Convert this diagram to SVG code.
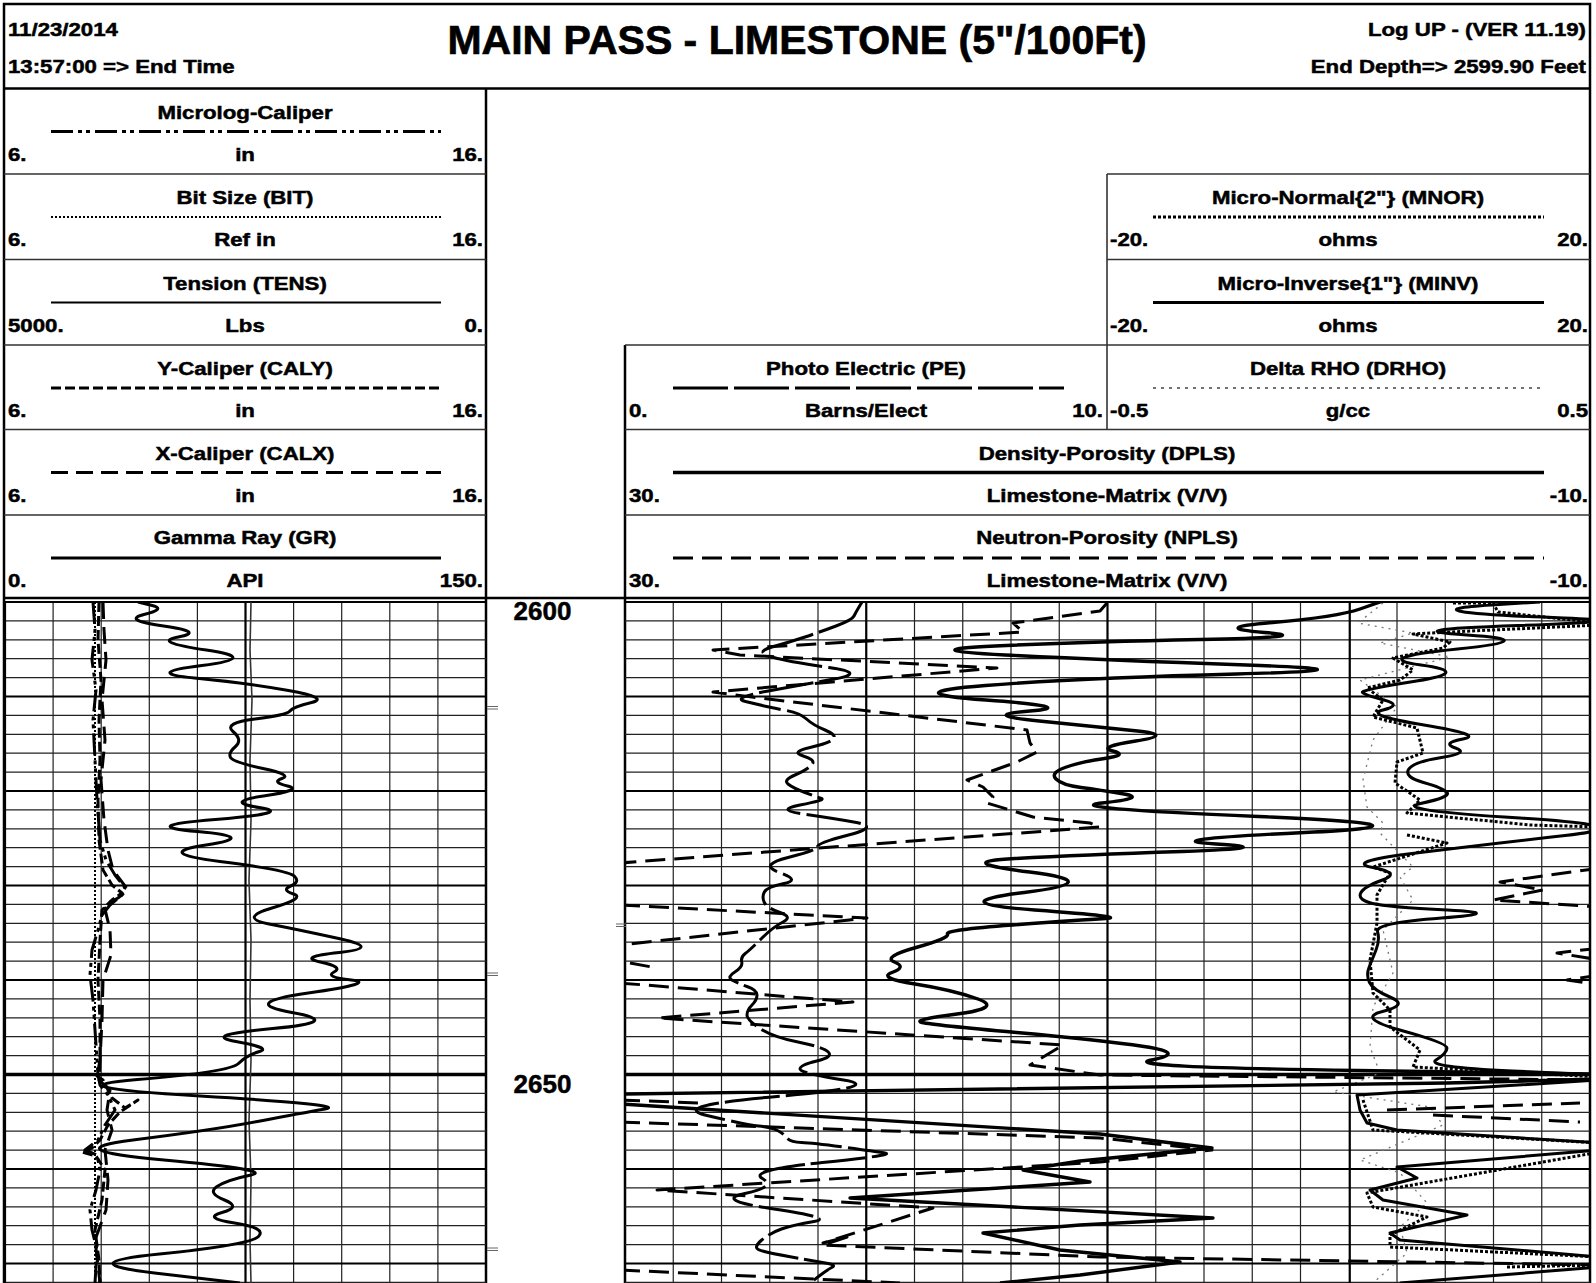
<svg xmlns="http://www.w3.org/2000/svg" width="1596" height="1283" viewBox="0 0 1596 1283">
<defs>
<style>
text{font-family:"Liberation Sans",Arial,sans-serif;font-weight:bold;fill:#000;stroke:#000}
.s{font-size:19px;stroke-width:0.5}
.t{font-size:41px;stroke-width:0.7}
.d{font-size:26px;stroke-width:0.5}
.frame{stroke:#000;stroke-width:2.5;fill:none}
.hl{stroke:#333;stroke-width:1.6;fill:none}
.gm{stroke:#222;stroke-width:1.2;fill:none}
.gM{stroke:#000;stroke-width:2.2;fill:none}
.g50{stroke:#000;stroke-width:3.4;fill:none}
.c{fill:none;stroke:#000;stroke-linejoin:round}
.mlc{stroke-width:3;stroke-dasharray:22 5 4 4 4 5}
.bit{stroke-width:2;stroke-dasharray:2 2}
.ten{stroke-width:1.6;stroke:#333}
.caly{stroke-width:3;stroke-dasharray:10 4}
.calx{stroke-width:3;stroke-dasharray:17 8}
.gr{stroke-width:3}
.pe{stroke-width:3;stroke-dasharray:55 6}
.dpls{stroke-width:3.4}
.npls{stroke-width:3;stroke-dasharray:20 9}
.mnor{stroke-width:3;stroke-dasharray:3 2}
.minv{stroke-width:3}
.drho{stroke-width:1.5;stroke-dasharray:3 5;stroke:#444}
.drhob{stroke-width:1.3;stroke-dasharray:2 5;stroke:#777}
.tick{stroke:#666;stroke-width:1;fill:none}
</style>
<clipPath id="clipL"><rect x="5" y="602" width="481" height="681"/></clipPath>
<clipPath id="clipR"><rect x="625" y="602" width="965" height="681"/></clipPath>
</defs>
<rect width="1596" height="1283" fill="#fff"/>

<g id="header">
<text class="s" transform="translate(8,36) scale(1.17,1)">11/23/2014</text>
<text class="s" transform="translate(8,73) scale(1.17,1)">13:57:00 =&gt; End Time</text>
<text class="t" x="797" y="54" text-anchor="middle">MAIN PASS - LIMESTONE (5"/100Ft)</text>
<text class="s" text-anchor="end" transform="translate(1586,36) scale(1.17,1)">Log UP - (VER 11.19)</text>
<text class="s" text-anchor="end" transform="translate(1586,73) scale(1.17,1)">End Depth=&gt; 2599.90 Feet</text>
</g>

<g id="frame">
<path class="frame" d="M4,1283 V4 H1590 V1283"/>
<path class="frame" d="M4,88.5 H1590 M486,88.5 V1283 M625,345 V1283 M4,598 H1590"/>
<path class="hl" d="M4,174 H486 M4,259.5 H486 M4,345 H486 M4,429.5 H486 M4,515 H486 M1107,174 H1590 M1107,259.5 H1590 M625,345 H1590 M625,429.5 H1590 M625,515 H1590 M1107,174 V429.5"/>
</g>

<g id="hdr-microlog-caliper">
<text class="s" text-anchor="middle" transform="translate(245,118.5) scale(1.17,1)">Microlog-Caliper</text>
<line class="c mlc" x1="51" y1="131.5" x2="441" y2="131.5"/>
<text class="s" transform="translate(8,160.5) scale(1.17,1)">6.</text>
<text class="s" text-anchor="middle" transform="translate(245,160.5) scale(1.17,1)">in</text>
<text class="s" text-anchor="end" transform="translate(483,160.5) scale(1.17,1)">16.</text>
</g>
<g id="hdr-bit">
<text class="s" text-anchor="middle" transform="translate(245,204) scale(1.17,1)">Bit Size (BIT)</text>
<line class="c bit" x1="51" y1="217" x2="441" y2="217"/>
<text class="s" transform="translate(8,246) scale(1.17,1)">6.</text>
<text class="s" text-anchor="middle" transform="translate(245,246) scale(1.17,1)">Ref in</text>
<text class="s" text-anchor="end" transform="translate(483,246) scale(1.17,1)">16.</text>
</g>
<g id="hdr-tens">
<text class="s" text-anchor="middle" transform="translate(245,289.5) scale(1.17,1)">Tension (TENS)</text>
<line class="c" stroke-width="2" x1="51" y1="302.5" x2="441" y2="302.5"/>
<text class="s" transform="translate(8,331.5) scale(1.17,1)">5000.</text>
<text class="s" text-anchor="middle" transform="translate(245,331.5) scale(1.17,1)">Lbs</text>
<text class="s" text-anchor="end" transform="translate(483,331.5) scale(1.17,1)">0.</text>
</g>
<g id="hdr-caly">
<text class="s" text-anchor="middle" transform="translate(245,375) scale(1.17,1)">Y-Caliper (CALY)</text>
<line class="c caly" x1="51" y1="388" x2="441" y2="388"/>
<text class="s" transform="translate(8,417) scale(1.17,1)">6.</text>
<text class="s" text-anchor="middle" transform="translate(245,417) scale(1.17,1)">in</text>
<text class="s" text-anchor="end" transform="translate(483,417) scale(1.17,1)">16.</text>
</g>
<g id="hdr-calx">
<text class="s" text-anchor="middle" transform="translate(245,459.5) scale(1.17,1)">X-Caliper (CALX)</text>
<line class="c calx" x1="51" y1="472.5" x2="441" y2="472.5"/>
<text class="s" transform="translate(8,501.5) scale(1.17,1)">6.</text>
<text class="s" text-anchor="middle" transform="translate(245,501.5) scale(1.17,1)">in</text>
<text class="s" text-anchor="end" transform="translate(483,501.5) scale(1.17,1)">16.</text>
</g>
<g id="hdr-gr">
<text class="s" text-anchor="middle" transform="translate(245,544) scale(1.17,1)">Gamma Ray (GR)</text>
<line class="c gr" x1="51" y1="558" x2="441" y2="558"/>
<text class="s" transform="translate(8,587) scale(1.17,1)">0.</text>
<text class="s" text-anchor="middle" transform="translate(245,587) scale(1.17,1)">API</text>
<text class="s" text-anchor="end" transform="translate(483,587) scale(1.17,1)">150.</text>
</g>

<g id="hdr-mnor">
<text class="s" text-anchor="middle" transform="translate(1348,204) scale(1.17,1)">Micro-Normal{2"} (MNOR)</text>
<line class="c mnor" x1="1153" y1="217" x2="1544" y2="217"/>
<text class="s" transform="translate(1110,246) scale(1.17,1)">-20.</text>
<text class="s" text-anchor="middle" transform="translate(1348,246) scale(1.17,1)">ohms</text>
<text class="s" text-anchor="end" transform="translate(1588,246) scale(1.17,1)">20.</text>
</g>
<g id="hdr-minv">
<text class="s" text-anchor="middle" transform="translate(1348,289.5) scale(1.17,1)">Micro-Inverse{1"} (MINV)</text>
<line class="c minv" x1="1153" y1="302.5" x2="1544" y2="302.5"/>
<text class="s" transform="translate(1110,331.5) scale(1.17,1)">-20.</text>
<text class="s" text-anchor="middle" transform="translate(1348,331.5) scale(1.17,1)">ohms</text>
<text class="s" text-anchor="end" transform="translate(1588,331.5) scale(1.17,1)">20.</text>
</g>
<g id="hdr-drho">
<text class="s" text-anchor="middle" transform="translate(1348,375) scale(1.17,1)">Delta RHO (DRHO)</text>
<line class="c drho" x1="1153" y1="388" x2="1544" y2="388"/>
<text class="s" transform="translate(1110,417) scale(1.17,1)">-0.5</text>
<text class="s" text-anchor="middle" transform="translate(1348,417) scale(1.17,1)">g/cc</text>
<text class="s" text-anchor="end" transform="translate(1588,417) scale(1.17,1)">0.5</text>
</g>
<g id="hdr-pe">
<text class="s" text-anchor="middle" transform="translate(866,375) scale(1.17,1)">Photo Electric (PE)</text>
<line class="c pe" x1="673" y1="388" x2="1064" y2="388"/>
<text class="s" transform="translate(629,417) scale(1.17,1)">0.</text>
<text class="s" text-anchor="middle" transform="translate(866,417) scale(1.17,1)">Barns/Elect</text>
<text class="s" text-anchor="end" transform="translate(1103,417) scale(1.17,1)">10.</text>
</g>
<g id="hdr-dpls">
<text class="s" text-anchor="middle" transform="translate(1107,459.5) scale(1.17,1)">Density-Porosity (DPLS)</text>
<line class="c dpls" x1="673" y1="472.5" x2="1544" y2="472.5"/>
<text class="s" transform="translate(629,501.5) scale(1.17,1)">30.</text>
<text class="s" text-anchor="middle" transform="translate(1107,501.5) scale(1.17,1)">Limestone-Matrix (V/V)</text>
<text class="s" text-anchor="end" transform="translate(1588,501.5) scale(1.17,1)">-10.</text>
</g>
<g id="hdr-npls">
<text class="s" text-anchor="middle" transform="translate(1107,544) scale(1.17,1)">Neutron-Porosity (NPLS)</text>
<line class="c npls" x1="673" y1="558" x2="1544" y2="558"/>
<text class="s" transform="translate(629,587) scale(1.17,1)">30.</text>
<text class="s" text-anchor="middle" transform="translate(1107,587) scale(1.17,1)">Limestone-Matrix (V/V)</text>
<text class="s" text-anchor="end" transform="translate(1588,587) scale(1.17,1)">-10.</text>
</g>

<g id="grid">
<path class="gm" d="M5,620.9H486M625,620.9H1590M5,639.8H486M625,639.8H1590M5,658.7H486M625,658.7H1590M5,677.6H486M625,677.6H1590M5,715.4H486M625,715.4H1590M5,734.3H486M625,734.3H1590M5,753.2H486M625,753.2H1590M5,772.1H486M625,772.1H1590M5,809.9H486M625,809.9H1590M5,828.8H486M625,828.8H1590M5,847.7H486M625,847.7H1590M5,866.6H486M625,866.6H1590M5,904.4H486M625,904.4H1590M5,923.3H486M625,923.3H1590M5,942.2H486M625,942.2H1590M5,961.1H486M625,961.1H1590M5,998.9H486M625,998.9H1590M5,1017.8H486M625,1017.8H1590M5,1036.7H486M625,1036.7H1590M5,1055.6H486M625,1055.6H1590M5,1093.4H486M625,1093.4H1590M5,1112.3H486M625,1112.3H1590M5,1131.2H486M625,1131.2H1590M5,1150.1H486M625,1150.1H1590M5,1187.9H486M625,1187.9H1590M5,1206.8H486M625,1206.8H1590M5,1225.7H486M625,1225.7H1590M5,1244.6H486M625,1244.6H1590M5,1282.4H486M625,1282.4H1590"/>
<path class="gm" d="M53.1,602V1283M101.2,602V1283M149.3,602V1283M197.4,602V1283M293.6,602V1283M341.7,602V1283M389.8,602V1283M437.9,602V1283M673.25,602V1283M721.5,602V1283M769.75,602V1283M818,602V1283M914.5,602V1283M962.75,602V1283M1011,602V1283M1059.25,602V1283M1155.75,602V1283M1204,602V1283M1252.25,602V1283M1300.5,602V1283M1397,602V1283M1445.25,602V1283M1493.5,602V1283M1541.75,602V1283"/>
<path class="gM" d="M5,602H486M625,602H1590M5,696.5H486M625,696.5H1590M5,791H486M625,791H1590M5,885.5H486M625,885.5H1590M5,980H486M625,980H1590M5,1169H486M625,1169H1590M5,1263.5H486M625,1263.5H1590"/>
<path class="g50" d="M5,1074.5H486M625,1074.5H1590"/>
<path class="gM" d="M245.5,602V1283M866.25,602V1283M1107.5,602V1283M1349.75,602V1283M5,602V1283"/>
</g>

<g id="depth">
<text class="d" x="542.5" y="620" text-anchor="middle">2600</text>
<text class="d" x="542.5" y="1093" text-anchor="middle">2650</text>
<path class="tick" d="M487,706.5H498M487,709H498M487,973H498M487,975.5H498M487,1248H498M487,1250.5H498M616,924H626M616,926.5H626"/>
</g>

<g id="curves-left" clip-path="url(#clipL)">
<line class="c bit" x1="95" y1="602" x2="95" y2="1283"/>
<polyline class="c ten" points="251,602 250,650 252,700 250,760 251,820 249,880 251,940 250,1000 251,1060 249,1120 251,1180 250,1240 251,1283"/>
<polyline class="c mlc" points="93,602 95,630 92,660 96,690 93,720 95,760 97,800 100,840 106,860 115,875 125,888 122,895 110,905 102,915 98,930 92,950 90,975 93,1000 95,1030 97,1060 98,1075 100,1085 108,1095 115,1110 105,1125 98,1140 85,1150 97,1155 100,1170 96,1190 90,1210 92,1230 97,1250 95,1283"/>
<polyline class="c caly" points="99,602 98,640 101,680 99,720 100,760 98,800 99,840 103,870 112,885 122,893 112,900 102,910 100,940 98,980 100,1020 100,1060 97,1076 103,1080 112,1098 125,1108 138,1100 120,1112 108,1125 100,1140 92,1148 82,1152 96,1156 105,1170 102,1200 95,1230 99,1260 100,1283"/>
<polyline class="c calx" points="103,602 104,630 106,660 102,700 105,740 101,780 104,820 108,850 113,870 128,890 118,898 104,905 110,930 111,955 103,980 102,1020 100,1060 99,1080 110,1090 107,1110 112,1130 105,1150 108,1180 106,1210 95,1240 100,1283"/>
<path class="c gr" d="M138,602 L152.25,605.5 Q166.5,609 144,614.5 Q121.5,620 163.6,626 Q205.7,632 178.35,637 Q151,642 206.35,650 Q261.7,658 201.85,665.5 Q142,673 194.5,678 Q247,683 288.5,690.5 Q330,698 311.5,702.5 Q293,707 290,711 Q287,715 255,719 Q223,723 233,731.5 Q243,740 235.5,746.5 Q228,753 230.5,757.5 Q233,762 263,768.5 Q293,775 282,778.5 Q271,782 287.5,786 Q304,790 263.5,796 Q223,802 259.25,807.5 Q295.5,813 215.25,819.5 Q135,826 197.5,831.5 Q260,837 206,845 Q152,853 220,861.5 Q288,870 294.25,876 Q300.5,882 290.75,886 Q281,890 293.5,894 Q306,898 272,908 Q238,918 269,924 Q300,930 341,939 Q382,948 339.25,952.5 Q296.5,957 320.25,962 Q344,967 334,972 Q324,977 351.25,980 Q378.5,983 308.25,993 Q238,1003 291.85,1012.5 Q345.7,1022 272.85,1028.5 Q200,1035 236,1041.5 Q272,1048 259.5,1051.5 Q247,1055 238.5,1063.5 Q230,1072 137.5,1079.5 Q45,1087 200,1096 Q350,1105 325,1109 Q302,1113 257.5,1121.5 Q213,1130 133,1140 Q53,1150 164,1160 Q275,1170 251,1175 Q227,1180 217,1186.5 Q207,1193 224.5,1200 Q242,1207 222,1212.5 Q202,1218 234.5,1223 Q267,1228 258.5,1236.5 Q250,1245 159.5,1254 Q69,1263 154.5,1273 L240,1283"/>
</g>

<g id="curves-right" clip-path="url(#clipR)">
<polyline class="c drhob" points="1383,603 1358,623 1413,633 1380,643 1450,657 1360,680 1397,707 1373,740 1363,780 1367,807 1383,823 1380,833 1413,867 1400,877 1413,900 1383,930 1393,973 1373,1007 1370,1047 1380,1073 1333,1092 1430,1107 1443,1125 1360,1160 1400,1173 1427,1203 1400,1227 1407,1253 1373,1283"/>
<path class="c pe" d="M862,602 L859,607 Q856,612 854,616 Q852,620 836,626 Q820,632 805,637 Q790,642 772,647 Q754,652 772,657 Q790,662 829,667.5 Q868,673 834,679 Q800,685 765.5,691.5 Q731,698 745.5,701.5 Q760,705 766.5,706.5 Q773,708 786.5,710.5 Q800,713 806.5,719 Q813,725 825,730 Q837,735 833.5,739 Q830,743 810,747.5 Q790,752 803.25,756 Q816.5,760 811.75,765 Q807,770 795,775 Q783,780 788,784 Q793,788 805,792.5 Q817,797 821.5,798.5 Q826,800 800,805 Q774,810 803.5,814 Q833,818 856.5,822.5 Q880,827 848.5,835 Q817,843 817.5,846.5 Q818,850 788,857.5 Q758,865 779.5,872.5 Q801,880 784,883.5 Q767,887 764.35,892 Q761.7,897 764.35,902.5 Q767,908 780,912.5 Q793,917 783,922 Q773,927 761.5,938.5 Q750,950 745.25,953.5 Q740.5,957 741.75,962 Q743,967 734.85,972 Q726.7,977 731.85,980 Q737,983 747,986.5 Q757,990 757,995 Q757,1000 752,1005 Q747,1010 747,1015 Q747,1020 760,1028.5 Q773,1037 798,1042 Q823,1047 828.25,1052 Q833.5,1057 816.75,1061 Q800,1065 800,1069 Q800,1073 843.5,1080 Q887,1087 777,1096.5 Q667,1106 707,1115.5 Q747,1125 758.5,1126 Q770,1127 776.5,1130 Q783,1133 786.5,1137.5 Q790,1142 801.5,1142.5 Q813,1143 843,1147 Q873,1151 885,1153 Q897,1155 822.5,1162.5 Q748,1170 762.35,1178.5 Q776.7,1187 744.85,1193.5 Q713,1200 774,1209 Q835,1218 814,1221.5 Q793,1225 781.5,1229 Q770,1233 761.75,1240 Q753.5,1247 758.25,1249.5 Q763,1252 791.5,1257 Q820,1262 828.25,1263.5 Q836.5,1265 831.75,1267.5 Q827,1270 818.5,1276.5 L810,1283"/>
<path class="c dpls" d="M1383,601 L1360,609 Q1337,617 1272.5,622.5 Q1208,628 1264.5,632.5 Q1321,637 1200.5,639.5 Q1080,642 995,646 Q910,650 1005,655 Q1100,660 1246.5,665 Q1393,670 1236.5,674 Q1080,678 985.5,685.5 Q891,693 986,700 Q1081,707 1029.75,711 Q978.5,715 1039.25,721 Q1100,727 1137.5,731 Q1175,735 1135.75,741 Q1096.5,747 1112.75,751 Q1129,755 1104.5,758.5 Q1080,762 1065,767.5 Q1050,773 1056,779 Q1062,785 1081,787.5 Q1100,790 1124,794 Q1148,798 1102,803 Q1056,808 1258.5,816.5 Q1461,825 1304.5,832.5 Q1148,840 1216,844 Q1284,848 1182,851.5 Q1080,855 1015,858.5 Q950,862 1029.75,872 Q1109.5,882 1024.25,892.5 Q939,903 1034.75,910 Q1130.5,917 1105.25,918.5 Q1080,920 1012.5,925 Q945,930 947.5,934 Q950,938 916,947.5 Q882,957 894.5,962 Q907,967 892,972.5 Q877,978 915,984 Q953,990 978,999 Q1003,1008 957,1014 Q911,1020 922,1022.5 Q933,1025 1016.5,1032.5 Q1100,1040 1144,1046.5 Q1188,1053 1151.5,1060 Q1115,1067 1357.5,1070.5 L1600,1074"/>
<polyline class="c dpls" points="1600,1079 1447,1083 620,1094"/>
<polyline class="c dpls" points="620,1104 1100,1134 1212,1148 1080,1161 1023,1170 1090,1182 850,1198 1213,1218 1080,1225 983,1233 1060,1250 1180,1262 1080,1275 1000,1283"/>
<polyline class="c npls" points="1107,603 1100,611 1013,623 1023,632 713,650 740,655 997,668 713,692 760,698 1027,730 1030,743 1037,752 1017,762 967,780 983,787 993,797 987,803 1033,817 1090,823 1100,827 620,863"/>
<polyline class="c npls" points="1600,868 1500,882 1543,890 1493,900 1600,907"/>
<polyline class="c npls" points="620,905 867,918 620,945"/>
<polyline class="c npls" points="1600,948 1557,953 1600,960"/>
<polyline class="c npls" points="630,963 657,968"/>
<polyline class="c npls" points="1600,975 1567,980 1600,985"/>
<polyline class="c npls" points="620,983 853,1002 658,1018 1063,1045 1030,1065 1100,1075 1600,1080"/>
<polyline class="c npls" points="620,1100 700,1103"/>
<polyline class="c npls" points="1387,1110 1580,1103"/>
<polyline class="c npls" points="1433,1115 1580,1122"/>
<polyline class="c npls" points="620,1122 1100,1138 1212,1150 1100,1162 657,1190 933,1208 823,1243 847,1237 823,1245 1100,1257 1600,1265"/>
<polyline class="c npls" points="620,1270 900,1283"/>
<path class="c minv" d="M1540,602 L1491.5,605 Q1443,608 1461.5,611.5 Q1480,615 1564,618 Q1648,621 1518,625.5 Q1388,630 1467,635 Q1546,640 1457.5,649 Q1369,658 1421,665 Q1473,672 1416.5,681 Q1360,690 1362.5,692.5 Q1365,695 1384,700 Q1403,705 1383,710 Q1363,715 1424,725 Q1485,735 1463,739 Q1441,743 1455.5,748 Q1470,753 1441.5,757.5 Q1413,762 1408.5,769.5 Q1404,777 1423.5,782.5 Q1443,788 1447,792.5 Q1451,797 1420.5,803.5 Q1390,810 1520,818 Q1650,826 1565,835.5 Q1480,845 1412,853.5 Q1344,862 1373,867.5 Q1402,873 1382.5,880 Q1363,887 1360.5,893.5 Q1358,900 1372.5,903.5 Q1387,907 1447.5,910 Q1508,913 1441.5,918 Q1375,923 1377.5,931.5 Q1380,940 1376,950 Q1372,960 1369,967.5 Q1366,975 1369.5,982.5 Q1373,990 1391,997.5 Q1409,1005 1382.5,1011.5 Q1356,1018 1401.5,1030.5 Q1447,1043 1447,1048 Q1447,1053 1436,1060 Q1425,1067 1512.5,1071 L1600,1075"/>
<polyline class="c minv" points="1600,1080 1357,1095 1360,1110 1367,1123 1397,1130 1600,1143"/>
<polyline class="c minv" points="1600,1150 1397,1167 1417,1178 1370,1190 1383,1200 1467,1215 1390,1233 1400,1240 1600,1257"/>
<polyline class="c minv" points="1600,1267 1400,1283"/>
<polyline class="c mnor" points="1453,603 1493,603 1498,612 1600,623"/>
<polyline class="c mnor" points="1600,625 1450,632 1413,634 1450,642 1443,648 1393,658 1413,670 1400,680 1367,688 1383,700 1373,717 1417,728 1423,753 1397,762 1395,783 1420,800 1407,813 1530,825 1600,827"/>
<polyline class="c mnor" points="1407,835 1447,843 1373,867 1390,873 1377,895 1377,923 1370,960 1373,993 1390,1010 1390,1027 1420,1050 1413,1067 1600,1077"/>
<polyline class="c mnor" points="1363,1100 1373,1130 1600,1143"/>
<polyline class="c mnor" points="1600,1152 1367,1193 1373,1207 1427,1217 1390,1235 1390,1247 1600,1257"/>
<polyline class="c mnor" points="1507,1267 1600,1265"/>
</g>
</svg>
